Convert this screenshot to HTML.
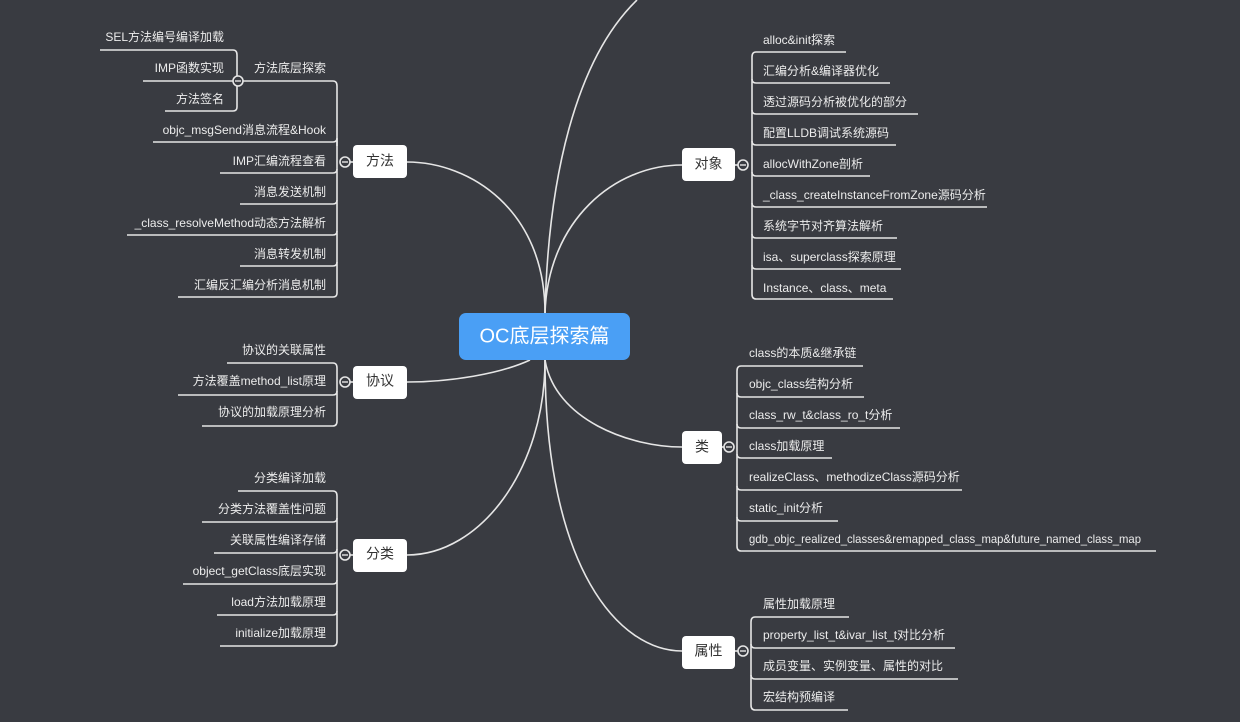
<!DOCTYPE html>
<html><head><meta charset="utf-8">
<style>
html,body{margin:0;padding:0;background:#393b41;}
svg{display:block;}
text{font-family:"Liberation Sans","Noto Sans CJK SC",sans-serif;font-size:12px;fill:#ececec;dominant-baseline:middle;}
.l{stroke:#e6e6e6;stroke-width:1.6;fill:none;}
.node{fill:#ffffff;}
.nt{fill:#333;font-size:14px;text-anchor:middle;}
.r{text-anchor:end;}
</style></head>
<body>
<svg width="1240" height="722" viewBox="0 0 1240 722" xmlns="http://www.w3.org/2000/svg">
<rect width="1240" height="722" fill="#393b41"/>

<path class="l" d="M545,313 C548,180 575,60 637,0"/>
<path class="l" d="M545,313 C545,210 470,162 407,162"/>
<path class="l" d="M545,313 C548,220 615,165 682,165"/>
<path class="l" d="M530,360 C500,374 450,382 407,382"/>
<path class="l" d="M545,360 C545,470 480,555 407,555"/>
<path class="l" d="M545,360 C555,420 630,447 682,447"/>
<path class="l" d="M545,360 C545,570 620,651 682,651"/>

<rect x="459" y="313" width="171" height="47" rx="7" fill="#4a9ff5"/>
<text x="544.5" y="337" style="font-size:20px;fill:#fff;text-anchor:middle">OC底层探索篇</text>

<rect class="node" x="353" y="145" width="54" height="33" rx="4"/>
<text class="nt" x="380" y="162">方法</text>
<line class="l" x1="345" y1="162" x2="353" y2="162"/>
<path class="l" d="M337,86 L337,293"/>
<path class="l" d="M240,81 L333,81 Q337,81 337,86"/>
<path class="l" d="M153,142 L333,142 Q337,142 337,138 L337,146"/>
<path class="l" d="M220,173 L333,173 Q337,173 337,169"/>
<path class="l" d="M240,204 L333,204 Q337,204 337,200"/>
<path class="l" d="M127,235 L333,235 Q337,235 337,231"/>
<path class="l" d="M240,266 L333,266 Q337,266 337,262"/>
<path class="l" d="M178,297 L333,297 Q337,297 337,293"/>
<circle cx="345" cy="162" r="5" fill="#393b41" stroke="#e6e6e6" stroke-width="1.6"/>
<line x1="342" y1="162" x2="348" y2="162" stroke="#e6e6e6" stroke-width="1.4"/>
<text class="r" x="326" y="69">方法底层探索</text>
<text class="r" x="326" y="131">objc_msgSend消息流程&amp;Hook</text>
<text class="r" x="326" y="162">IMP汇编流程查看</text>
<text class="r" x="326" y="193">消息发送机制</text>
<text class="r" x="326" y="224">_class_resolveMethod动态方法解析</text>
<text class="r" x="326" y="255">消息转发机制</text>
<text class="r" x="326" y="286">汇编反汇编分析消息机制</text>
<path class="l" d="M237,55 L237,107"/>
<path class="l" d="M100,50 L233,50 Q237,50 237,55"/>
<path class="l" d="M143,81 L237,81"/>
<path class="l" d="M165,111 L233,111 Q237,111 237,107"/>
<circle cx="238" cy="81" r="5" fill="#393b41" stroke="#e6e6e6" stroke-width="1.6"/>
<line x1="235" y1="81" x2="241" y2="81" stroke="#e6e6e6" stroke-width="1.4"/>
<text class="r" x="224" y="38">SEL方法编号编译加载</text>
<text class="r" x="224" y="69">IMP函数实现</text>
<text class="r" x="224" y="100">方法签名</text>

<rect class="node" x="353" y="366" width="54" height="33" rx="4"/>
<text class="nt" x="380" y="382">协议</text>
<line class="l" x1="345" y1="382" x2="353" y2="382"/>
<path class="l" d="M337,368 L337,421"/>
<path class="l" d="M227,363 L333,363 Q337,363 337,368"/>
<path class="l" d="M178,395 L333,395 Q337,395 337,391"/>
<path class="l" d="M202,426 L333,426 Q337,426 337,421"/>
<circle cx="345" cy="382" r="5" fill="#393b41" stroke="#e6e6e6" stroke-width="1.6"/>
<line x1="342" y1="382" x2="348" y2="382" stroke="#e6e6e6" stroke-width="1.4"/>
<text class="r" x="326" y="351">协议的关联属性</text>
<text class="r" x="326" y="382">方法覆盖method_list原理</text>
<text class="r" x="326" y="413">协议的加载原理分析</text>

<rect class="node" x="353" y="539" width="54" height="33" rx="4"/>
<text class="nt" x="380" y="555">分类</text>
<line class="l" x1="345" y1="555" x2="353" y2="555"/>
<path class="l" d="M337,496 L337,641"/>
<path class="l" d="M238,491 L333,491 Q337,491 337,496"/>
<path class="l" d="M202,522 L333,522 Q337,522 337,518"/>
<path class="l" d="M214,553 L333,553 Q337,553 337,549"/>
<path class="l" d="M183,584 L333,584 Q337,584 337,580"/>
<path class="l" d="M217,615 L333,615 Q337,615 337,611"/>
<path class="l" d="M220,646 L333,646 Q337,646 337,641"/>
<circle cx="345" cy="555" r="5" fill="#393b41" stroke="#e6e6e6" stroke-width="1.6"/>
<line x1="342" y1="555" x2="348" y2="555" stroke="#e6e6e6" stroke-width="1.4"/>
<text class="r" x="326" y="479">分类编译加载</text>
<text class="r" x="326" y="510">分类方法覆盖性问题</text>
<text class="r" x="326" y="541">关联属性编译存储</text>
<text class="r" x="326" y="572">object_getClass底层实现</text>
<text class="r" x="326" y="603">load方法加载原理</text>
<text class="r" x="326" y="634">initialize加载原理</text>

<rect class="node" x="682" y="148" width="53" height="33" rx="4"/>
<text class="nt" x="708.5" y="165">对象</text>
<line class="l" x1="735" y1="165" x2="743" y2="165"/>
<path class="l" d="M752,57 L752,294"/>
<path class="l" d="M846,52 L756,52 Q752,52 752,57"/>
<path class="l" d="M890,83 L756,83 Q752,83 752,79"/>
<path class="l" d="M918,114 L756,114 Q752,114 752,110"/>
<path class="l" d="M896,145 L756,145 Q752,145 752,141"/>
<path class="l" d="M870,176 L756,176 Q752,176 752,172"/>
<path class="l" d="M987,207 L756,207 Q752,207 752,203"/>
<path class="l" d="M897,238 L756,238 Q752,238 752,234"/>
<path class="l" d="M901,269 L756,269 Q752,269 752,265"/>
<path class="l" d="M893,299 L756,299 Q752,299 752,294"/>
<circle cx="743" cy="165" r="5" fill="#393b41" stroke="#e6e6e6" stroke-width="1.6"/>
<line x1="740" y1="165" x2="746" y2="165" stroke="#e6e6e6" stroke-width="1.4"/>
<text x="763" y="41">alloc&amp;init探索</text>
<text x="763" y="72">汇编分析&amp;编译器优化</text>
<text x="763" y="103">透过源码分析被优化的部分</text>
<text x="763" y="134">配置LLDB调试系统源码</text>
<text x="763" y="165">allocWithZone剖析</text>
<text x="763" y="196">_class_createInstanceFromZone源码分析</text>
<text x="763" y="227">系统字节对齐算法解析</text>
<text x="763" y="258">isa、superclass探索原理</text>
<text x="763" y="289">Instance、class、meta</text>

<rect class="node" x="682" y="431" width="40" height="33" rx="4"/>
<text class="nt" x="702" y="448">类</text>
<line class="l" x1="722" y1="447" x2="729" y2="447"/>
<path class="l" d="M737,371 L737,546"/>
<path class="l" d="M863,366 L741,366 Q737,366 737,371"/>
<path class="l" d="M864,397 L741,397 Q737,397 737,393"/>
<path class="l" d="M900,428 L741,428 Q737,428 737,424"/>
<path class="l" d="M832,458 L741,458 Q737,458 737,454"/>
<path class="l" d="M962,490 L741,490 Q737,490 737,486"/>
<path class="l" d="M838,521 L741,521 Q737,521 737,517"/>
<path class="l" d="M1156,551 L741,551 Q737,551 737,546"/>
<circle cx="729" cy="447" r="5" fill="#393b41" stroke="#e6e6e6" stroke-width="1.6"/>
<line x1="726" y1="447" x2="732" y2="447" stroke="#e6e6e6" stroke-width="1.4"/>
<text x="749" y="354">class的本质&amp;继承链</text>
<text x="749" y="385">objc_class结构分析</text>
<text x="749" y="416">class_rw_t&amp;class_ro_t分析</text>
<text x="749" y="447">class加载原理</text>
<text x="749" y="478">realizeClass、methodizeClass源码分析</text>
<text x="749" y="509">static_init分析</text>
<text x="749" y="540" textLength="392" lengthAdjust="spacingAndGlyphs">gdb_objc_realized_classes&amp;remapped_class_map&amp;future_named_class_map</text>

<rect class="node" x="682" y="636" width="53" height="33" rx="4"/>
<text class="nt" x="708.5" y="652">属性</text>
<line class="l" x1="735" y1="651" x2="743" y2="651"/>
<path class="l" d="M751,622 L751,705"/>
<path class="l" d="M849,617 L755,617 Q751,617 751,622"/>
<path class="l" d="M955,648 L755,648 Q751,648 751,644"/>
<path class="l" d="M958,679 L755,679 Q751,679 751,675"/>
<path class="l" d="M848,710 L755,710 Q751,710 751,705"/>
<circle cx="743" cy="651" r="5" fill="#393b41" stroke="#e6e6e6" stroke-width="1.6"/>
<line x1="740" y1="651" x2="746" y2="651" stroke="#e6e6e6" stroke-width="1.4"/>
<text x="763" y="605">属性加载原理</text>
<text x="763" y="636">property_list_t&amp;ivar_list_t对比分析</text>
<text x="763" y="667">成员变量、实例变量、属性的对比</text>
<text x="763" y="698">宏结构预编译</text>
</svg>
</body></html>
